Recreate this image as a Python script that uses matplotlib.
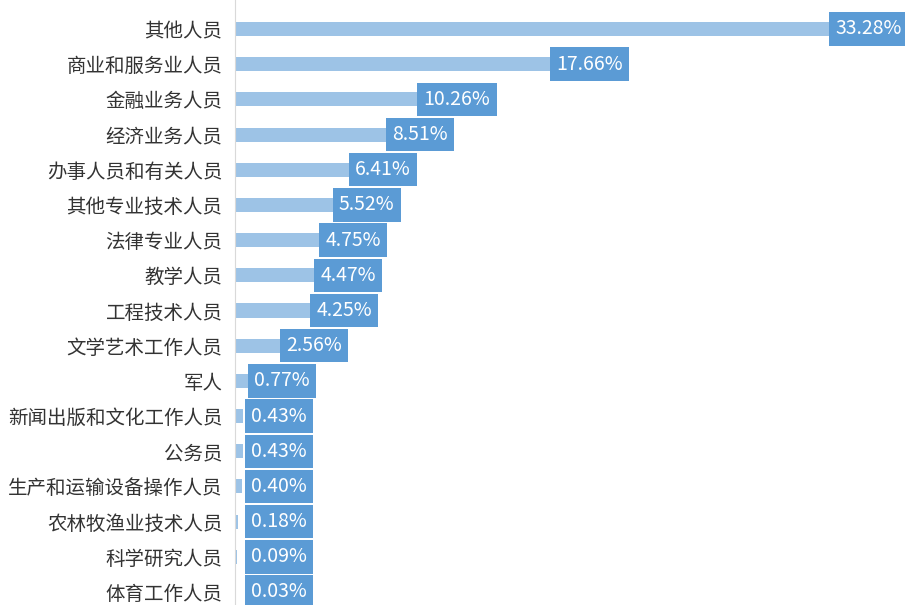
import matplotlib.pyplot as plt

plt.rcParams['font.family'] = ['Noto Sans CJK SC', 'DejaVu Sans']

categories = ['其他人员', '商业和服务业人员', '金融业务人员', '经济业务人员', '办事人员和有关人员',
              '其他专业技术人员', '法律专业人员', '教学人员', '工程技术人员', '文学艺术工作人员',
              '军人', '新闻出版和文化工作人员', '公务员', '生产和运输设备操作人员',
              '农林牧渔业技术人员', '科学研究人员', '体育工作人员']
values = [33.28, 17.66, 10.26, 8.51, 6.41, 5.52, 4.75, 4.47, 4.25, 2.56,
          0.77, 0.43, 0.43, 0.40, 0.18, 0.09, 0.03]

fig = plt.figure(figsize=(9.05, 6.05), dpi=100)
ax = fig.add_axes([235 / 905, 0, 1 - 235 / 905, 1])

y = list(range(len(categories)))
ax.barh(y, values, height=0.4, color='#9dc3e6')

# 数値ラベル（青い箱）
for yi, v in zip(y, values):
    ax.text(max(v + 0.3, 0.9), yi, '%.2f%%' % v, ha='left', va='center',
            fontsize=14, color='white',
            bbox=dict(boxstyle='square,pad=0.32', fc='#5b9bd5', ec='none'))

ax.set_xlim(0, 37.5)
ax.set_ylim(16.37, -0.824)
ax.set_yticks(y)
ax.set_yticklabels(categories, fontsize=14, color='#333333')
ax.tick_params(axis='y', length=0, pad=9)
ax.set_xticks([])
for s in ['top', 'right', 'bottom']:
    ax.spines[s].set_visible(False)
ax.spines['left'].set_color('#d9d9d9')

fig.savefig('out.png', dpi=100)
